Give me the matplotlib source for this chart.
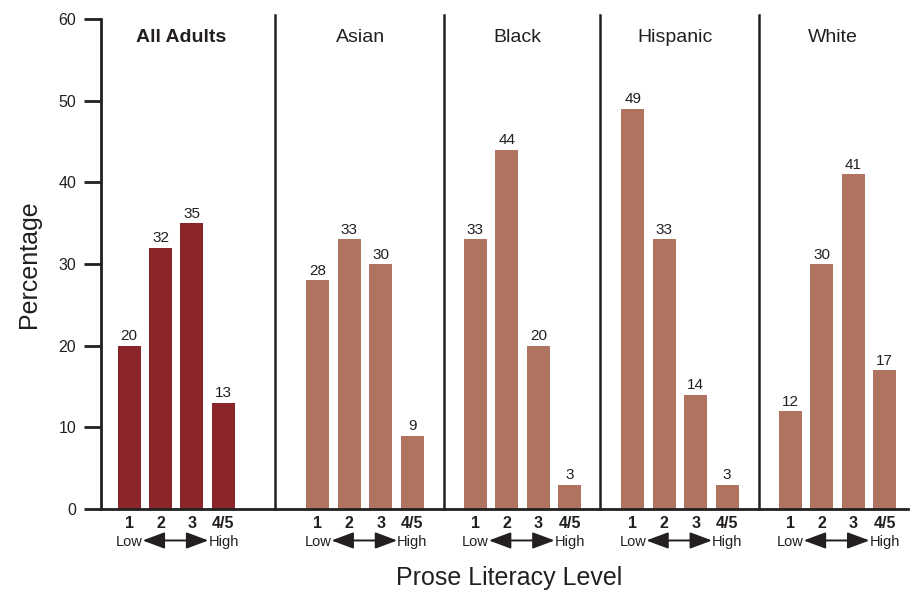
import matplotlib
matplotlib.use("Agg")
import matplotlib.pyplot as plt
import numpy as np

plt.rcParams['font.family'] = ['Liberation Sans Narrow', 'Liberation Sans', 'DejaVu Sans']

groups = ["All Adults", "Asian", "Black", "Hispanic", "White"]
levels = ["1", "2", "3", "4/5"]
all_adults = [20, 32, 35, 13]
asian = [28, 33, 30, 9]
black = [33, 44, 20, 3]
hispanic = [49, 33, 14, 3]
white = [12, 30, 41, 17]
series = [all_adults, asian, black, hispanic, white]

group_starts = [0, 6, 11, 16, 21]
separators = [4.65, 10.0, 14.95, 20.0]
colors = ["#8a2529", "#b07360", "#b07360", "#b07360", "#b07360"]
text_col = "#231f20"

fig = plt.figure(figsize=(9.1, 5.91), dpi=100)
ax = fig.add_axes([0.111, 0.1387, 0.887, 0.8292])

for g, (name, vals, start, col) in enumerate(zip(groups, series, group_starts, colors)):
    xs = start + np.arange(len(vals))
    ax.bar(xs, vals, width=0.73, color=col, zorder=2)
    for x, v in zip(xs, vals):
        ax.text(x, v + 0.3, str(v), ha='center', va='bottom', fontsize=11,
                family=['Liberation Sans', 'DejaVu Sans'], color=text_col)
    cx = xs.mean() + (0.15 if g == 0 else -0.15)
    ax.text(cx, 57.7, name, ha='center', va='center', fontsize=14,
            fontweight='bold' if g == 0 else 'normal', color=text_col)
    for x, lab in zip(xs, levels):
        ax.text(x, -0.9, lab, ha='center', va='top', fontsize=11.5, fontweight='bold',
                color=text_col, clip_on=False)
    ax.text(xs[0], -3.2, "Low", ha='center', va='top', fontsize=10.5, color=text_col, clip_on=False)
    ax.text(xs[3], -3.2, "High", ha='center', va='top', fontsize=10.5, color=text_col, clip_on=False)
    ax.annotate("", xy=(xs[2] + 0.52, -3.85), xytext=(xs[1] - 0.57, -3.85),
                arrowprops=dict(arrowstyle='<|-|>,head_length=0.75,head_width=0.28',
                                color=text_col, lw=1.4,
                                mutation_scale=18, shrinkA=0, shrinkB=0),
                annotation_clip=False)

for s in separators:
    ax.plot([s, s], [0, 60.5], color=text_col, lw=1.8, zorder=3, clip_on=False)

ax.set_xlim(-0.89, 24.75)
ax.set_ylim(0, 60)
ax.set_yticks(range(0, 61, 10))
ax.tick_params(axis='y', direction='out', length=12, width=2, color=text_col,
               labelsize=11.5, labelcolor=text_col, pad=6)
ax.set_xticks([])
for sp in ['top', 'right']:
    ax.spines[sp].set_visible(False)
for sp in ['left', 'bottom']:
    ax.spines[sp].set_linewidth(2)
    ax.spines[sp].set_color(text_col)

ax.set_ylabel("Percentage", fontsize=18, color=text_col,
              family=['Liberation Sans', 'DejaVu Sans'], labelpad=12)
fig.text(0.56, 0.022, "Prose Literacy Level", ha='center', va='center', fontsize=18,
         color=text_col, family=['Liberation Sans', 'DejaVu Sans'])

fig.savefig("out.png", dpi=100)
